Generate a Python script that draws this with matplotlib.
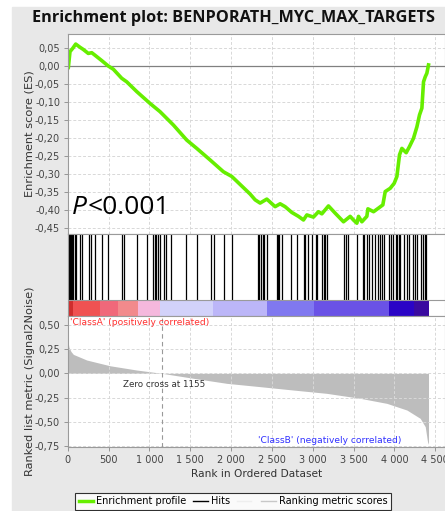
import matplotlib
matplotlib.use("Agg")
import matplotlib.pyplot as plt
from matplotlib.lines import Line2D
from matplotlib.patches import Rectangle
from matplotlib.ticker import FuncFormatter, MultipleLocator

# running enrichment score
es_rank = [0, 7, 28, 61, 98, 151, 191, 252, 294, 334, 417, 497, 559, 661, 723, 845,
           1008, 1131, 1294, 1458, 1580, 1743, 1907, 2009, 2234, 2295, 2356, 2438,
           2540, 2601, 2662, 2744, 2826, 2887, 2928, 3009, 3071, 3112, 3193, 3275,
           3377, 3459, 3499, 3541, 3561, 3602, 3663, 3676, 3745, 3806, 3859, 3888,
           3949, 3998, 4031, 4063, 4092, 4145, 4185, 4234, 4276, 4308, 4337, 4357,
           4378, 4398, 4418]
es_value = [0.0, -0.006, 0.040, 0.049, 0.061, 0.052, 0.046, 0.035, 0.037, 0.030,
            0.015, 0.0, -0.009, -0.034, -0.044, -0.071, -0.104, -0.127, -0.164,
            -0.206, -0.229, -0.261, -0.294, -0.307, -0.356, -0.372, -0.381, -0.370,
            -0.391, -0.383, -0.391, -0.407, -0.418, -0.428, -0.414, -0.420, -0.405,
            -0.411, -0.389, -0.409, -0.433, -0.418, -0.428, -0.437, -0.418, -0.433,
            -0.418, -0.397, -0.405, -0.395, -0.386, -0.349, -0.340, -0.326, -0.307,
            -0.247, -0.229, -0.241, -0.224, -0.201, -0.169, -0.136, -0.117, -0.044,
            -0.030, -0.020, 0.003]

# gene set members in the ranked list
hit_rank = [20, 32, 44, 56, 69, 86, 98, 151, 179, 265, 282, 331, 417, 497, 669, 693,
            845, 975, 1049, 1066, 1082, 1110, 1127, 1184, 1201, 1262, 1449, 1588,
            1756, 1796, 1919, 2009, 2328, 2347, 2368, 2389, 2409, 2442, 2561, 2573,
            2589, 2622, 2732, 2813, 2891, 2907, 2948, 2989, 3038, 3051, 3119, 3137,
            3156, 3181, 3389, 3410, 3438, 3541, 3614, 3634, 3667, 3695, 3725, 3765,
            3798, 3830, 3851, 3872, 3940, 3961, 3986, 4019, 4035, 4051, 4068, 4112,
            4154, 4182, 4231, 4256, 4280, 4325, 4353, 4369, 4390]

# ranked list metric (Signal2Noise)
metric_rank = [0, 15, 40, 69, 233, 518, 845, 1155, 1539, 1948, 2356, 2764, 3173,
               3581, 3908, 4154, 4316, 4378, 4406, 4418]
metric_value = [0.345, 0.270, 0.225, 0.195, 0.137, 0.078, 0.034, 0.0, -0.051, -0.103,
                -0.137, -0.172, -0.206, -0.257, -0.309, -0.378, -0.463, -0.549,
                -0.704, -0.730]

# heat strip segments
strip_edges = [0, 69, 396, 620, 865, 1131, 1784, 2438, 3010, 3930, 4236, 4418]
strip_colors = ["#cf2e2e", "#f05252", "#f0687a", "#f28a8c", "#f5b8dd", "#d2d2fa",
                "#bcb6f8", "#8078f0", "#6a52e6", "#2a04c6", "#3a0aa0"]

zero_cross = 1155
title = "Enrichment plot: BENPORATH_MYC_MAX_TARGETS"

W, H = 445, 511
fig = plt.figure(figsize=(W / 100, H / 100), dpi=100, facecolor="white")
fig.patches.append(Rectangle((12 / W, 0), 1 - 12 / W, 1 - 7 / H,
                             transform=fig.transFigure, color="#e8e8e8", zorder=-10))

TICK = "#444444"
LAB = "#333333"
GRID = dict(color="#d8d8d8", linestyle=(0, (3, 2)), linewidth=0.7)


def comma(v, _):
    s = f"{v:.2f}".replace(".", ",")
    return "0,00" if s == "-0,00" else s


def spaced(v, _):
    return f"{int(v):,}".replace(",", " ")


def frame(ax):
    ax.set_facecolor("white")
    for sp in ax.spines.values():
        sp.set_color("#9a9a9a")
        sp.set_linewidth(0.8)
    ax.tick_params(colors="#888888", labelcolor=TICK, labelsize=7, length=3, width=0.6,
                   pad=2.5)
    ax.set_xlim(0, 4620)


left = 67.7 / W
width = 1 - left

# enrichment score panel
ax_es = fig.add_axes([left, 1 - 234 / H, width, 200 / H])
frame(ax_es)
ax_es.set_ylim(-0.467, 0.089)
ax_es.yaxis.set_major_locator(MultipleLocator(0.05))
ax_es.xaxis.set_major_locator(MultipleLocator(500))
ax_es.yaxis.set_major_formatter(FuncFormatter(comma))
ax_es.tick_params(axis="x", labelbottom=False, length=0)
ax_es.grid(True, **GRID)
ax_es.axhline(0, color="#808080", linewidth=0.9)
ax_es.plot(es_rank, es_value, color="#66ee00", linewidth=2.6, solid_joinstyle="round")
ax_es.set_ylabel("Enrichment score (ES)", fontsize=8.2, color=LAB)
ax_es.yaxis.set_label_coords(-33 / (W * width), 0.5)

# P value annotation
fig.text(72 / W, 1 - 207 / H, "P", fontsize=19, family="Open Sans", style="italic",
         color="black", va="center")
fig.text(88 / W, 1 - 207 / H, "<0.001", fontsize=19, family="Open Sans",
         color="black", va="center")
fig.text(233 / W, 1 - 18 / H, title, ha="center", va="center", fontsize=11.7,
         fontweight="bold", family="Open Sans", color="#111111")

# hits panel with heat strip
ax_hit = fig.add_axes([left, 1 - 316 / H, width, 82 / H])
frame(ax_hit)
ax_hit.set_ylim(0, 1)
ax_hit.set_xticks([])
ax_hit.set_yticks([])
strip_top = 16 / 82
ax_hit.vlines(hit_rank, strip_top, 1, color="black", linewidth=0.9)
for i, c in enumerate(strip_colors):
    ax_hit.axvspan(strip_edges[i], strip_edges[i + 1], 0, strip_top, color=c, linewidth=0)
ax_hit.axhline(strip_top, color="#9a9a9a", linewidth=0.8)

# ranked list metric panel
ax_m = fig.add_axes([left, 1 - 447 / H, width, 131 / H])
frame(ax_m)
ax_m.set_ylim(-0.758, 0.59)
ax_m.yaxis.set_major_locator(MultipleLocator(0.25))
ax_m.xaxis.set_major_locator(MultipleLocator(500))
ax_m.yaxis.set_major_formatter(FuncFormatter(comma))
ax_m.xaxis.set_major_formatter(FuncFormatter(spaced))
ax_m.grid(True, **GRID)
ax_m.fill_between(metric_rank, metric_value, 0, color="#bdbdbd", linewidth=0)
ax_m.axvline(zero_cross, color="#999999", linestyle=(0, (4, 3)), linewidth=0.8)
ax_m.text(30, 0.525, "'ClassA' (positively correlated)", color="#ff3030",
          fontsize=6.6, va="center", zorder=5)
ax_m.text(680, -0.11, f"Zero cross at {zero_cross}", color=LAB, fontsize=6.3,
          va="center")
ax_m.text(2325, -0.69, "'ClassB' (negatively correlated)", color="#3030ff",
          fontsize=6.6, va="center")
ax_m.set_xlabel("Rank in Ordered Dataset", fontsize=7.6, color=LAB, labelpad=3)
ax_m.set_ylabel("Ranked list metric (Signal2Noise)", fontsize=8.2, color=LAB)
ax_m.yaxis.set_label_coords(-33 / (W * width), 0.5)

handles = [
    Line2D([], [], color="#66ee00", linewidth=2.5),
    Line2D([], [], color="black", linewidth=1),
    Line2D([], [], color="#eeeeee", linewidth=1),
    Line2D([], [], color="#c8c8c8", linewidth=1),
]
labels = ["Enrichment profile", "Hits", "", "Ranking metric scores"]
leg = fig.legend(handles, labels, loc="upper center", bbox_to_anchor=(233 / W, 1 - 488 / H),
                 ncol=4, fontsize=7.0, frameon=True, fancybox=False, handlelength=1.5,
                 handletextpad=0.3, columnspacing=0.7, borderpad=0.35)
leg.get_frame().set_edgecolor("black")
leg.get_frame().set_linewidth(0.8)

fig.savefig("out.png", dpi=100, facecolor="white")
